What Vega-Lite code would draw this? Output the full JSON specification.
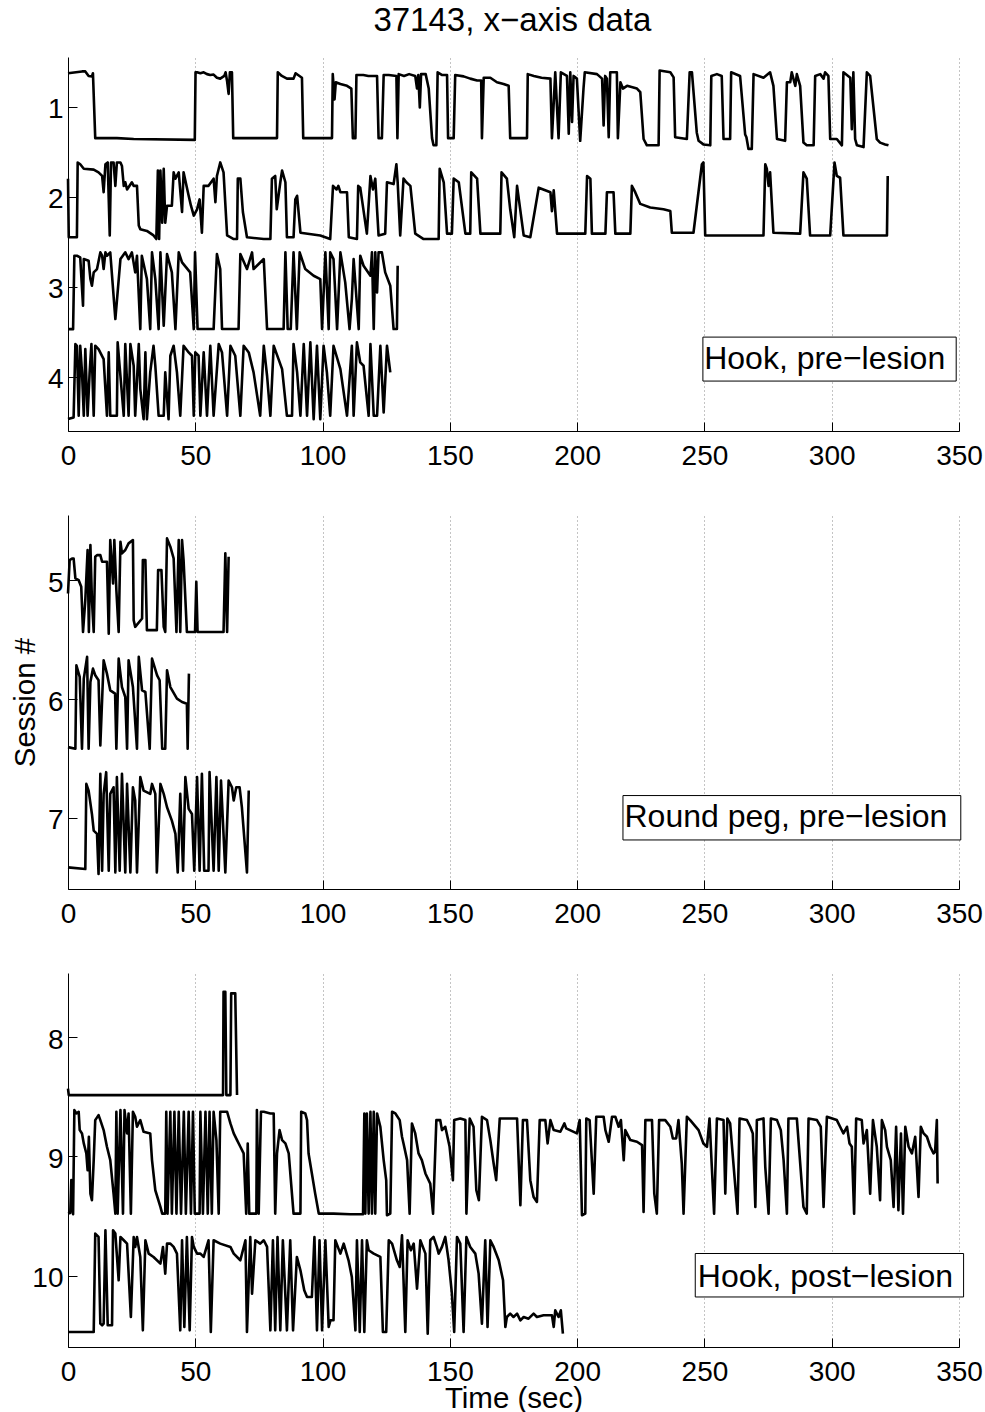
{
"$schema": "https://vega.github.io/schema/vega-lite/v6.json",
"background": "white",
"padding": {"left": 10, "top": 5, "right": 0, "bottom": 0},
"title": {"text": "37143, x−axis data", "anchor": "middle", "fontSize": 33, "fontWeight": "normal", "font": "Liberation Sans", "color": "black", "offset": 19, "dx": 16},
"spacing": 84,
"bounds": "flush",
"config": {
  "view": {"stroke": null},
  "axis": {"domainColor": "black", "tickColor": "black", "labelColor": "black", "labelFont": "Liberation Sans", "labelFontSize": 28, "titleFont": "Liberation Sans", "titleFontSize": 29.5, "titleFontWeight": "normal", "titleColor": "black", "tickSize": -9, "domainWidth": 1, "tickWidth": 1},
  "axisX": {"grid": true, "gridDash": [1, 3], "gridColor": "#888888", "gridWidth": 1, "labelPadding": 20, "labelFlush": false, "labelOverlap": false},
  "axisY": {"grid": false, "labelPadding": 14, "labelOffset": 3, "format": "d"}
},
"datasets": {
"hookPre": [
{"s":1,"t":0,"v":0.63},{"s":1,"t":5.5,"v":0.61},{"s":1,"t":6.8,"v":0.61},{"s":1,"t":8.1,"v":0.66},{"s":1,"t":9.4,"v":0.665},{"s":1,"t":9.8,"v":0.63},{"s":1,"t":10.7,"v":1.35},{"s":1,"t":19.2,"v":1.35},{"s":1,"t":25.8,"v":1.36},{"s":1,"t":49.8,"v":1.37},{"s":1,"t":50.1,"v":0.62},{"s":1,"t":50.7,"v":0.62},{"s":1,"t":52,"v":0.63},{"s":1,"t":53.3,"v":0.62},{"s":1,"t":54.6,"v":0.64},{"s":1,"t":55.9,"v":0.65},{"s":1,"t":57.2,"v":0.645},{"s":1,"t":58.5,"v":0.68},{"s":1,"t":59.8,"v":0.69},{"s":1,"t":61.4,"v":0.66},{"s":1,"t":61.9,"v":0.62},{"s":1,"t":62.5,"v":0.72},{"s":1,"t":63.1,"v":0.86},{"s":1,"t":63.6,"v":0.62},{"s":1,"t":64.4,"v":0.62},{"s":1,"t":64.9,"v":1.35},{"s":1,"t":82.1,"v":1.35},{"s":1,"t":82.4,"v":0.62},{"s":1,"t":84,"v":0.66},{"s":1,"t":86,"v":0.69},{"s":1,"t":88.6,"v":0.69},{"s":1,"t":89.4,"v":0.63},{"s":1,"t":91.9,"v":0.68},{"s":1,"t":92.4,"v":1.35},{"s":1,"t":103.7,"v":1.35},{"s":1,"t":104,"v":0.64},{"s":1,"t":104.7,"v":0.92},{"s":1,"t":105.2,"v":0.73},{"s":1,"t":107,"v":0.75},{"s":1,"t":109.6,"v":0.77},{"s":1,"t":111.3,"v":0.8},{"s":1,"t":111.9,"v":1.35},{"s":1,"t":112.9,"v":1.35},{"s":1,"t":113.3,"v":0.65},{"s":1,"t":116,"v":0.65},{"s":1,"t":118,"v":0.66},{"s":1,"t":121.4,"v":0.66},{"s":1,"t":122,"v":1.35},{"s":1,"t":123.3,"v":1.35},{"s":1,"t":124,"v":0.65},{"s":1,"t":126,"v":0.65},{"s":1,"t":129,"v":0.66},{"s":1,"t":129.4,"v":1.35},{"s":1,"t":129.9,"v":0.64},{"s":1,"t":132,"v":0.66},{"s":1,"t":134,"v":0.64},{"s":1,"t":136.4,"v":0.66},{"s":1,"t":137.1,"v":0.8},{"s":1,"t":137.6,"v":0.65},{"s":1,"t":138.2,"v":1.01},{"s":1,"t":138.7,"v":0.64},{"s":1,"t":140.5,"v":0.64},{"s":1,"t":141.7,"v":0.8},{"s":1,"t":143,"v":1.35},{"s":1,"t":143.6,"v":1.43},{"s":1,"t":144.7,"v":1.43},{"s":1,"t":145.2,"v":0.62},{"s":1,"t":147,"v":0.65},{"s":1,"t":148.9,"v":0.65},{"s":1,"t":149.3,"v":1.35},{"s":1,"t":151.5,"v":1.35},{"s":1,"t":152.1,"v":0.65},{"s":1,"t":155.4,"v":0.665},{"s":1,"t":158,"v":0.69},{"s":1,"t":160.7,"v":0.71},{"s":1,"t":162.3,"v":0.71},{"s":1,"t":162.6,"v":1.35},{"s":1,"t":163.3,"v":0.68},{"s":1,"t":165.9,"v":0.68},{"s":1,"t":168.5,"v":0.73},{"s":1,"t":171.1,"v":0.75},{"s":1,"t":173.1,"v":0.77},{"s":1,"t":173.7,"v":1.35},{"s":1,"t":180.3,"v":1.35},{"s":1,"t":180.6,"v":0.64},{"s":1,"t":183,"v":0.66},{"s":1,"t":186,"v":0.68},{"s":1,"t":189.5,"v":0.69},{"s":1,"t":190.1,"v":1.35},{"s":1,"t":191.4,"v":0.62},{"s":1,"t":192.7,"v":1.35},{"s":1,"t":193.6,"v":0.62},{"s":1,"t":196,"v":0.66},{"s":1,"t":196.7,"v":1.3},{"s":1,"t":197.3,"v":0.62},{"s":1,"t":198,"v":1.17},{"s":1,"t":198.6,"v":0.66},{"s":1,"t":199.9,"v":0.69},{"s":1,"t":201.2,"v":1.38},{"s":1,"t":202.5,"v":0.8},{"s":1,"t":203,"v":0.62},{"s":1,"t":207.8,"v":0.64},{"s":1,"t":209.8,"v":0.69},{"s":1,"t":210.4,"v":1.21},{"s":1,"t":211,"v":0.66},{"s":1,"t":211.7,"v":0.69},{"s":1,"t":212.4,"v":1.34},{"s":1,"t":213,"v":0.62},{"s":1,"t":215.6,"v":0.62},{"s":1,"t":216,"v":1.35},{"s":1,"t":217,"v":0.73},{"s":1,"t":218,"v":0.8},{"s":1,"t":219.6,"v":0.77},{"s":1,"t":223.5,"v":0.8},{"s":1,"t":224.8,"v":0.84},{"s":1,"t":226.1,"v":1.36},{"s":1,"t":227.4,"v":1.43},{"s":1,"t":232,"v":1.43},{"s":1,"t":232.4,"v":0.6},{"s":1,"t":236.6,"v":0.62},{"s":1,"t":237.9,"v":0.676},{"s":1,"t":238.5,"v":1.34},{"s":1,"t":243.1,"v":1.36},{"s":1,"t":244.2,"v":0.62},{"s":1,"t":245.1,"v":0.62},{"s":1,"t":247,"v":1.29},{"s":1,"t":247.7,"v":1.38},{"s":1,"t":249.6,"v":1.42},{"s":1,"t":252.3,"v":1.43},{"s":1,"t":252.7,"v":0.66},{"s":1,"t":254.9,"v":0.64},{"s":1,"t":256.8,"v":0.66},{"s":1,"t":257.5,"v":1.36},{"s":1,"t":260.1,"v":1.36},{"s":1,"t":260.5,"v":0.62},{"s":1,"t":264,"v":0.66},{"s":1,"t":266,"v":1.31},{"s":1,"t":266.5,"v":1.34},{"s":1,"t":267.3,"v":1.47},{"s":1,"t":268.6,"v":1.47},{"s":1,"t":269.3,"v":0.64},{"s":1,"t":273.2,"v":0.68},{"s":1,"t":275.8,"v":0.62},{"s":1,"t":277.1,"v":0.77},{"s":1,"t":278.5,"v":1.36},{"s":1,"t":281.7,"v":1.38},{"s":1,"t":282.4,"v":0.73},{"s":1,"t":283.7,"v":0.73},{"s":1,"t":284.3,"v":0.62},{"s":1,"t":285.7,"v":0.77},{"s":1,"t":286.3,"v":0.64},{"s":1,"t":287.6,"v":0.77},{"s":1,"t":288.9,"v":1.4},{"s":1,"t":290.2,"v":1.43},{"s":1,"t":292.9,"v":1.43},{"s":1,"t":293.5,"v":0.66},{"s":1,"t":295.5,"v":0.64},{"s":1,"t":296.8,"v":0.69},{"s":1,"t":297.4,"v":0.62},{"s":1,"t":298.7,"v":0.66},{"s":1,"t":299.4,"v":1.36},{"s":1,"t":302,"v":1.36},{"s":1,"t":304,"v":1.43},{"s":1,"t":304.6,"v":0.62},{"s":1,"t":307.3,"v":0.68},{"s":1,"t":307.9,"v":1.25},{"s":1,"t":308.5,"v":0.62},{"s":1,"t":309.2,"v":1.36},{"s":1,"t":309.9,"v":1.43},{"s":1,"t":312.5,"v":1.45},{"s":1,"t":313.8,"v":0.62},{"s":1,"t":315.1,"v":0.66},{"s":1,"t":317.7,"v":1.36},{"s":1,"t":319,"v":1.4},{"s":1,"t":321,"v":1.42},{"s":1,"t":322.3,"v":1.43},
{"s":2,"t":0,"v":1.8},{"s":2,"t":0.3,"v":2.45},{"s":2,"t":3.5,"v":2.45},{"s":2,"t":3.8,"v":1.62},{"s":2,"t":4.8,"v":1.64},{"s":2,"t":6.2,"v":1.69},{"s":2,"t":10.1,"v":1.7},{"s":2,"t":12,"v":1.73},{"s":2,"t":13.4,"v":1.77},{"s":2,"t":14,"v":1.95},{"s":2,"t":14.7,"v":1.64},{"s":2,"t":15.6,"v":1.62},{"s":2,"t":16.4,"v":2.43},{"s":2,"t":16.9,"v":1.62},{"s":2,"t":17.9,"v":1.62},{"s":2,"t":18.6,"v":1.88},{"s":2,"t":19.2,"v":1.62},{"s":2,"t":20.6,"v":1.62},{"s":2,"t":21.2,"v":1.66},{"s":2,"t":21.9,"v":1.88},{"s":2,"t":22.5,"v":1.84},{"s":2,"t":23.2,"v":1.92},{"s":2,"t":25.1,"v":1.84},{"s":2,"t":25.8,"v":1.88},{"s":2,"t":27.1,"v":1.88},{"s":2,"t":27.8,"v":2.32},{"s":2,"t":28.4,"v":2.36},{"s":2,"t":31,"v":2.38},{"s":2,"t":33.6,"v":2.43},{"s":2,"t":34.7,"v":2.47},{"s":2,"t":35.3,"v":1.71},{"s":2,"t":35.8,"v":2.47},{"s":2,"t":36.3,"v":1.71},{"s":2,"t":37,"v":2.29},{"s":2,"t":37.6,"v":1.69},{"s":2,"t":38.2,"v":2.29},{"s":2,"t":38.9,"v":2.1},{"s":2,"t":40.8,"v":2.1},{"s":2,"t":41.5,"v":1.73},{"s":2,"t":42.2,"v":1.8},{"s":2,"t":43.5,"v":1.73},{"s":2,"t":44.8,"v":2.17},{"s":2,"t":45.4,"v":1.73},{"s":2,"t":47.4,"v":1.99},{"s":2,"t":48.3,"v":2.1},{"s":2,"t":49.4,"v":2.21},{"s":2,"t":50.7,"v":2.14},{"s":2,"t":51.7,"v":2.03},{"s":2,"t":52.6,"v":2.4},{"s":2,"t":53.3,"v":1.88},{"s":2,"t":55.2,"v":1.88},{"s":2,"t":57.2,"v":1.8},{"s":2,"t":57.9,"v":2.06},{"s":2,"t":58.5,"v":1.77},{"s":2,"t":59.8,"v":1.62},{"s":2,"t":61.1,"v":1.73},{"s":2,"t":62.5,"v":2.43},{"s":2,"t":65.1,"v":2.47},{"s":2,"t":66.4,"v":2.47},{"s":2,"t":66.7,"v":1.8},{"s":2,"t":67.7,"v":1.8},{"s":2,"t":68.7,"v":2.17},{"s":2,"t":70.3,"v":2.45},{"s":2,"t":76.9,"v":2.47},{"s":2,"t":79.5,"v":2.47},{"s":2,"t":80.1,"v":1.8},{"s":2,"t":81.4,"v":1.77},{"s":2,"t":82,"v":2.14},{"s":2,"t":83.4,"v":1.84},{"s":2,"t":84.1,"v":1.71},{"s":2,"t":85.4,"v":1.84},{"s":2,"t":86,"v":2.45},{"s":2,"t":88.6,"v":2.45},{"s":2,"t":89.3,"v":2.03},{"s":2,"t":90,"v":1.99},{"s":2,"t":91.3,"v":2.4},{"s":2,"t":99.1,"v":2.43},{"s":2,"t":103,"v":2.47},{"s":2,"t":104.1,"v":1.88},{"s":2,"t":105.5,"v":1.92},{"s":2,"t":106.2,"v":1.88},{"s":2,"t":107,"v":1.95},{"s":2,"t":109.6,"v":1.95},{"s":2,"t":110.3,"v":2.45},{"s":2,"t":113.5,"v":2.47},{"s":2,"t":114,"v":1.88},{"s":2,"t":114.8,"v":1.9},{"s":2,"t":117.4,"v":2.41},{"s":2,"t":118.8,"v":1.77},{"s":2,"t":119.8,"v":1.92},{"s":2,"t":120.7,"v":1.8},{"s":2,"t":122,"v":2.43},{"s":2,"t":124.6,"v":2.41},{"s":2,"t":125.3,"v":1.84},{"s":2,"t":127.9,"v":1.86},{"s":2,"t":129,"v":1.64},{"s":2,"t":129.5,"v":1.84},{"s":2,"t":130.5,"v":2.43},{"s":2,"t":131.8,"v":1.8},{"s":2,"t":132.9,"v":1.84},{"s":2,"t":134.5,"v":1.88},{"s":2,"t":136.4,"v":2.41},{"s":2,"t":139.7,"v":2.47},{"s":2,"t":145.6,"v":2.47},{"s":2,"t":146,"v":1.69},{"s":2,"t":147.6,"v":1.84},{"s":2,"t":148.9,"v":2.41},{"s":2,"t":150.8,"v":2.41},{"s":2,"t":151.5,"v":1.8},{"s":2,"t":153.5,"v":1.84},{"s":2,"t":156.1,"v":2.41},{"s":2,"t":158,"v":2.41},{"s":2,"t":158.4,"v":1.73},{"s":2,"t":160.7,"v":1.8},{"s":2,"t":162,"v":2.41},{"s":2,"t":169.8,"v":2.41},{"s":2,"t":170.3,"v":1.73},{"s":2,"t":172.4,"v":1.8},{"s":2,"t":173.7,"v":2.14},{"s":2,"t":175.3,"v":2.45},{"s":2,"t":176.4,"v":1.88},{"s":2,"t":179,"v":2.43},{"s":2,"t":181.6,"v":2.45},{"s":2,"t":184.9,"v":1.9},{"s":2,"t":189.5,"v":1.95},{"s":2,"t":190.1,"v":2.16},{"s":2,"t":190.8,"v":1.93},{"s":2,"t":192.1,"v":2.41},{"s":2,"t":203.2,"v":2.41},{"s":2,"t":203.9,"v":1.77},{"s":2,"t":205.2,"v":1.8},{"s":2,"t":205.8,"v":2.41},{"s":2,"t":211.1,"v":2.41},{"s":2,"t":211.7,"v":1.95},{"s":2,"t":214.3,"v":1.95},{"s":2,"t":215,"v":2.41},{"s":2,"t":220.9,"v":2.41},{"s":2,"t":221.5,"v":1.88},{"s":2,"t":222.8,"v":1.95},{"s":2,"t":224.8,"v":2.08},{"s":2,"t":228.7,"v":2.12},{"s":2,"t":233.9,"v":2.14},{"s":2,"t":236.6,"v":2.16},{"s":2,"t":237.2,"v":2.4},{"s":2,"t":245.7,"v":2.4},{"s":2,"t":249,"v":1.64},{"s":2,"t":249.6,"v":1.62},{"s":2,"t":250.3,"v":2.43},{"s":2,"t":273.2,"v":2.43},{"s":2,"t":273.9,"v":1.64},{"s":2,"t":274.5,"v":1.69},{"s":2,"t":275.2,"v":1.88},{"s":2,"t":275.8,"v":1.73},{"s":2,"t":277.1,"v":2.4},{"s":2,"t":287.6,"v":2.41},{"s":2,"t":288.9,"v":1.73},{"s":2,"t":290.2,"v":1.8},{"s":2,"t":291.5,"v":2.43},{"s":2,"t":299.4,"v":2.43},{"s":2,"t":301.1,"v":1.62},{"s":2,"t":302,"v":1.77},{"s":2,"t":303.3,"v":1.79},{"s":2,"t":304.6,"v":2.43},{"s":2,"t":321.7,"v":2.43},{"s":2,"t":322,"v":1.77},
{"s":3,"t":0.3,"v":3.47},{"s":3,"t":2,"v":3.47},{"s":3,"t":2.5,"v":2.655},{"s":3,"t":3.5,"v":2.655},{"s":3,"t":4.8,"v":2.673},{"s":3,"t":5.9,"v":3.21},{"s":3,"t":6.2,"v":2.692},{"s":3,"t":8.1,"v":2.71},{"s":3,"t":8.8,"v":2.914},{"s":3,"t":9.4,"v":2.988},{"s":3,"t":10.1,"v":2.84},{"s":3,"t":11.4,"v":2.803},{"s":3,"t":12.7,"v":2.618},{"s":3,"t":13.4,"v":2.655},{"s":3,"t":14,"v":2.803},{"s":3,"t":14.7,"v":2.618},{"s":3,"t":15.3,"v":2.655},{"s":3,"t":16.6,"v":2.618},{"s":3,"t":18.6,"v":3.358},{"s":3,"t":20.6,"v":2.692},{"s":3,"t":22.5,"v":2.618},{"s":3,"t":23.8,"v":2.692},{"s":3,"t":25.1,"v":2.618},{"s":3,"t":26.4,"v":2.84},{"s":3,"t":27.1,"v":2.655},{"s":3,"t":28.4,"v":3.469},{"s":3,"t":29,"v":2.655},{"s":3,"t":31,"v":2.914},{"s":3,"t":32.3,"v":3.469},{"s":3,"t":33,"v":2.618},{"s":3,"t":34.3,"v":2.914},{"s":3,"t":35.6,"v":3.469},{"s":3,"t":36.3,"v":2.618},{"s":3,"t":37.6,"v":3.432},{"s":3,"t":38.9,"v":2.636},{"s":3,"t":40.8,"v":2.84},{"s":3,"t":42.2,"v":3.469},{"s":3,"t":43.5,"v":2.618},{"s":3,"t":44.8,"v":2.729},{"s":3,"t":48,"v":2.84},{"s":3,"t":49.4,"v":3.469},{"s":3,"t":49.9,"v":2.618},{"s":3,"t":50.9,"v":3.469},{"s":3,"t":57.2,"v":3.469},{"s":3,"t":58.5,"v":2.636},{"s":3,"t":59.8,"v":2.803},{"s":3,"t":60.5,"v":3.469},{"s":3,"t":67,"v":3.469},{"s":3,"t":67.7,"v":2.636},{"s":3,"t":70.3,"v":2.803},{"s":3,"t":72.3,"v":2.618},{"s":3,"t":72.9,"v":2.803},{"s":3,"t":76.9,"v":2.692},{"s":3,"t":78.2,"v":3.469},{"s":3,"t":84.7,"v":3.469},{"s":3,"t":85.4,"v":2.618},{"s":3,"t":86.3,"v":3.469},{"s":3,"t":87.5,"v":3.469},{"s":3,"t":88.6,"v":2.618},{"s":3,"t":89.9,"v":3.469},{"s":3,"t":91,"v":2.618},{"s":3,"t":93.2,"v":2.803},{"s":3,"t":96.5,"v":2.877},{"s":3,"t":99.1,"v":2.914},{"s":3,"t":99.8,"v":3.469},{"s":3,"t":101.1,"v":2.618},{"s":3,"t":102.4,"v":3.469},{"s":3,"t":103,"v":2.618},{"s":3,"t":104.3,"v":2.692},{"s":3,"t":105.7,"v":3.469},{"s":3,"t":107,"v":2.618},{"s":3,"t":108.9,"v":2.951},{"s":3,"t":110.6,"v":3.469},{"s":3,"t":111.5,"v":3.136},{"s":3,"t":112.2,"v":2.692},{"s":3,"t":114.2,"v":3.469},{"s":3,"t":114.8,"v":2.655},{"s":3,"t":116.1,"v":2.766},{"s":3,"t":118.8,"v":2.877},{"s":3,"t":119.4,"v":2.618},{"s":3,"t":120.1,"v":3.469},{"s":3,"t":120.7,"v":2.618},{"s":3,"t":121.4,"v":3.062},{"s":3,"t":122,"v":2.618},{"s":3,"t":123.3,"v":2.618},{"s":3,"t":124.6,"v":2.84},{"s":3,"t":126.6,"v":2.988},{"s":3,"t":127.9,"v":3.469},{"s":3,"t":129.2,"v":3.469},{"s":3,"t":129.5,"v":2.766},
{"s":4,"t":0,"v":4.468},{"s":4,"t":2.2,"v":4.449},{"s":4,"t":2.9,"v":3.635},{"s":4,"t":3.5,"v":3.654},{"s":4,"t":4.2,"v":4.431},{"s":4,"t":4.8,"v":3.654},{"s":4,"t":5.5,"v":3.95},{"s":4,"t":6.2,"v":4.431},{"s":4,"t":6.8,"v":3.691},{"s":4,"t":7.7,"v":4.431},{"s":4,"t":8.5,"v":3.95},{"s":4,"t":9.2,"v":3.635},{"s":4,"t":10.1,"v":4.431},{"s":4,"t":10.7,"v":3.654},{"s":4,"t":12,"v":3.691},{"s":4,"t":14,"v":3.802},{"s":4,"t":15.3,"v":4.431},{"s":4,"t":16,"v":3.728},{"s":4,"t":16.6,"v":4.431},{"s":4,"t":19.2,"v":4.431},{"s":4,"t":19.5,"v":3.617},{"s":4,"t":21.9,"v":4.431},{"s":4,"t":22.5,"v":3.635},{"s":4,"t":23.8,"v":4.431},{"s":4,"t":24.5,"v":3.635},{"s":4,"t":25.8,"v":3.876},{"s":4,"t":26.4,"v":4.431},{"s":4,"t":27.8,"v":3.635},{"s":4,"t":28.4,"v":4.135},{"s":4,"t":29.7,"v":4.468},{"s":4,"t":30.4,"v":3.728},{"s":4,"t":31,"v":4.468},{"s":4,"t":32.3,"v":3.95},{"s":4,"t":33.6,"v":3.654},{"s":4,"t":34.3,"v":3.876},{"s":4,"t":35.6,"v":4.431},{"s":4,"t":37.6,"v":4.431},{"s":4,"t":38.2,"v":3.95},{"s":4,"t":39.5,"v":4.468},{"s":4,"t":40.2,"v":3.765},{"s":4,"t":41.5,"v":3.654},{"s":4,"t":42.8,"v":3.95},{"s":4,"t":44.1,"v":4.431},{"s":4,"t":45.4,"v":3.654},{"s":4,"t":47.4,"v":3.728},{"s":4,"t":48.7,"v":3.765},{"s":4,"t":49.4,"v":4.431},{"s":4,"t":50,"v":3.728},{"s":4,"t":51.3,"v":3.765},{"s":4,"t":52,"v":4.431},{"s":4,"t":53.3,"v":3.728},{"s":4,"t":54.6,"v":4.431},{"s":4,"t":55.9,"v":3.654},{"s":4,"t":57.2,"v":4.431},{"s":4,"t":59.2,"v":3.635},{"s":4,"t":60.5,"v":3.728},{"s":4,"t":62.5,"v":4.431},{"s":4,"t":63.8,"v":3.654},{"s":4,"t":65.7,"v":3.765},{"s":4,"t":67.7,"v":4.431},{"s":4,"t":69,"v":3.654},{"s":4,"t":71,"v":3.728},{"s":4,"t":72.9,"v":3.95},{"s":4,"t":75.5,"v":4.431},{"s":4,"t":76.9,"v":3.654},{"s":4,"t":78.2,"v":3.987},{"s":4,"t":79.5,"v":4.431},{"s":4,"t":80.8,"v":3.654},{"s":4,"t":82.7,"v":3.802},{"s":4,"t":84.1,"v":3.913},{"s":4,"t":86,"v":4.431},{"s":4,"t":88,"v":4.431},{"s":4,"t":88.6,"v":3.635},{"s":4,"t":90,"v":3.95},{"s":4,"t":91.3,"v":4.431},{"s":4,"t":92.6,"v":3.635},{"s":4,"t":93.9,"v":4.431},{"s":4,"t":95.2,"v":3.617},{"s":4,"t":96.5,"v":4.468},{"s":4,"t":97.8,"v":3.654},{"s":4,"t":99.1,"v":4.468},{"s":4,"t":100.4,"v":3.654},{"s":4,"t":101.7,"v":3.95},{"s":4,"t":103,"v":4.431},{"s":4,"t":104.3,"v":3.654},{"s":4,"t":107,"v":3.913},{"s":4,"t":109.6,"v":4.431},{"s":4,"t":111.5,"v":3.654},{"s":4,"t":112.2,"v":4.431},{"s":4,"t":113.5,"v":3.617},{"s":4,"t":114.8,"v":3.839},{"s":4,"t":116.1,"v":3.876},{"s":4,"t":118.1,"v":4.431},{"s":4,"t":118.8,"v":3.635},{"s":4,"t":120.1,"v":4.431},{"s":4,"t":121.4,"v":4.431},{"s":4,"t":122.7,"v":3.654},{"s":4,"t":124,"v":4.394},{"s":4,"t":125.3,"v":3.654},{"s":4,"t":126.6,"v":3.95}
],
"roundPeg": [
{"s":5,"t":0,"v":5.111},{"s":5,"t":0.65,"v":4.83},{"s":5,"t":1.6,"v":4.816},{"s":5,"t":2.2,"v":4.816},{"s":5,"t":2.9,"v":4.984},{"s":5,"t":4.2,"v":4.999},{"s":5,"t":5.2,"v":5.055},{"s":5,"t":5.9,"v":5.435},{"s":5,"t":6.8,"v":5.167},{"s":5,"t":7.7,"v":4.745},{"s":5,"t":8.2,"v":5.435},{"s":5,"t":8.8,"v":4.703},{"s":5,"t":9.4,"v":5.167},{"s":5,"t":10.1,"v":5.435},{"s":5,"t":10.7,"v":4.802},{"s":5,"t":11.4,"v":4.788},{"s":5,"t":12.7,"v":4.788},{"s":5,"t":13.4,"v":4.844},{"s":5,"t":15.3,"v":4.844},{"s":5,"t":16,"v":5.449},{"s":5,"t":16.6,"v":4.661},{"s":5,"t":17.7,"v":5.027},{"s":5,"t":18.2,"v":4.661},{"s":5,"t":19,"v":5.083},{"s":5,"t":19.9,"v":5.435},{"s":5,"t":20.6,"v":4.675},{"s":5,"t":21.2,"v":4.773},{"s":5,"t":22.5,"v":4.745},{"s":5,"t":23.8,"v":4.689},{"s":5,"t":25.5,"v":4.661},{"s":5,"t":25.8,"v":5.336},{"s":5,"t":26.4,"v":5.392},{"s":5,"t":29.1,"v":5.322},{"s":5,"t":29.4,"v":4.83},{"s":5,"t":30.4,"v":4.83},{"s":5,"t":31,"v":5.42},{"s":5,"t":34.9,"v":5.42},{"s":5,"t":35.4,"v":4.914},{"s":5,"t":36.7,"v":4.914},{"s":5,"t":37.6,"v":5.392},{"s":5,"t":38.2,"v":5.435},{"s":5,"t":38.9,"v":4.647},{"s":5,"t":40.2,"v":4.717},{"s":5,"t":41.5,"v":4.816},{"s":5,"t":42.6,"v":5.435},{"s":5,"t":43.5,"v":4.661},{"s":5,"t":44.1,"v":5.435},{"s":5,"t":44.8,"v":4.661},{"s":5,"t":45.4,"v":4.83},{"s":5,"t":46.7,"v":5.435},{"s":5,"t":49.9,"v":5.435},{"s":5,"t":50.4,"v":5.013},{"s":5,"t":50.9,"v":5.435},{"s":5,"t":61.1,"v":5.435},{"s":5,"t":61.8,"v":4.773},{"s":5,"t":62.5,"v":5.435},{"s":5,"t":63.1,"v":4.802},
{"s":6,"t":0,"v":6.405},{"s":6,"t":2.9,"v":6.419},{"s":6,"t":3.3,"v":5.716},{"s":6,"t":4.6,"v":5.814},{"s":6,"t":5.5,"v":6.419},{"s":6,"t":6.2,"v":5.828},{"s":6,"t":7.5,"v":5.645},{"s":6,"t":8.1,"v":6.419},{"s":6,"t":8.8,"v":5.856},{"s":6,"t":9.8,"v":5.744},{"s":6,"t":10.7,"v":5.8},{"s":6,"t":12,"v":5.842},{"s":6,"t":12.7,"v":6.391},{"s":6,"t":14,"v":5.674},{"s":6,"t":15.3,"v":5.786},{"s":6,"t":16.6,"v":5.927},{"s":6,"t":18.5,"v":5.955},{"s":6,"t":19,"v":6.419},{"s":6,"t":19.9,"v":5.66},{"s":6,"t":21.2,"v":5.899},{"s":6,"t":22.5,"v":5.983},{"s":6,"t":23.2,"v":6.419},{"s":6,"t":23.8,"v":5.674},{"s":6,"t":25.5,"v":5.899},{"s":6,"t":27.1,"v":6.419},{"s":6,"t":27.8,"v":5.645},{"s":6,"t":29.1,"v":5.927},{"s":6,"t":30.4,"v":5.941},{"s":6,"t":32.1,"v":6.419},{"s":6,"t":33,"v":5.66},{"s":6,"t":35,"v":5.8},{"s":6,"t":36,"v":5.842},{"s":6,"t":37,"v":6.419},{"s":6,"t":38.2,"v":6.419},{"s":6,"t":38.9,"v":5.758},{"s":6,"t":40.2,"v":5.899},{"s":6,"t":42.8,"v":5.997},{"s":6,"t":44.8,"v":6.025},{"s":6,"t":46.7,"v":6.039},{"s":6,"t":47,"v":6.419},{"s":6,"t":47.5,"v":5.786},
{"s":7,"t":0,"v":7.418},{"s":7,"t":6.8,"v":7.432},{"s":7,"t":7.2,"v":6.715},{"s":7,"t":8.1,"v":6.771},{"s":7,"t":9.4,"v":6.968},{"s":7,"t":10.1,"v":7.108},{"s":7,"t":11.4,"v":7.136},{"s":7,"t":12,"v":7.474},{"s":7,"t":12.7,"v":6.63},{"s":7,"t":13.4,"v":7.446},{"s":7,"t":14,"v":6.799},{"s":7,"t":15,"v":6.616},{"s":7,"t":16,"v":7.446},{"s":7,"t":16.6,"v":6.799},{"s":7,"t":17.9,"v":6.743},{"s":7,"t":18.6,"v":7.46},{"s":7,"t":19.2,"v":6.658},{"s":7,"t":20.3,"v":7.446},{"s":7,"t":21.2,"v":6.63},{"s":7,"t":22.5,"v":7.46},{"s":7,"t":23.2,"v":6.715},{"s":7,"t":24.5,"v":7.46},{"s":7,"t":25.5,"v":6.743},{"s":7,"t":26.4,"v":6.855},{"s":7,"t":27.1,"v":7.46},{"s":7,"t":28.4,"v":6.658},{"s":7,"t":29.7,"v":6.771},{"s":7,"t":32.3,"v":6.799},{"s":7,"t":33,"v":6.715},{"s":7,"t":34.3,"v":6.799},{"s":7,"t":34.9,"v":7.46},{"s":7,"t":36.3,"v":6.715},{"s":7,"t":37.6,"v":6.799},{"s":7,"t":38.9,"v":6.911},{"s":7,"t":40.8,"v":7.024},{"s":7,"t":42.2,"v":7.136},{"s":7,"t":43.1,"v":7.46},{"s":7,"t":44.1,"v":6.799},{"s":7,"t":45.2,"v":7.446},{"s":7,"t":46.1,"v":6.658},{"s":7,"t":47.4,"v":6.925},{"s":7,"t":48.7,"v":6.968},{"s":7,"t":49.6,"v":7.446},{"s":7,"t":50.7,"v":6.658},{"s":7,"t":51.7,"v":7.446},{"s":7,"t":52.6,"v":6.63},{"s":7,"t":53.5,"v":7.446},{"s":7,"t":55.2,"v":7.446},{"s":7,"t":55.6,"v":6.616},{"s":7,"t":57.2,"v":7.446},{"s":7,"t":58.3,"v":6.658},{"s":7,"t":59.2,"v":7.446},{"s":7,"t":60.1,"v":6.686},{"s":7,"t":61.8,"v":7.46},{"s":7,"t":63.1,"v":6.686},{"s":7,"t":64.4,"v":6.743},{"s":7,"t":65.1,"v":6.855},{"s":7,"t":66.1,"v":6.743},{"s":7,"t":67.4,"v":6.743},{"s":7,"t":68.3,"v":6.911},{"s":7,"t":70.3,"v":7.46},{"s":7,"t":71,"v":6.771}
],
"hookPost": [
{"s":8,"t":0,"v":8.43},{"s":8,"t":0.3,"v":8.485},{"s":8,"t":60.9,"v":8.485},{"s":8,"t":61.1,"v":7.617},{"s":8,"t":61.8,"v":7.617},{"s":8,"t":62.2,"v":8.485},{"s":8,"t":63.8,"v":8.485},{"s":8,"t":64.1,"v":7.631},{"s":8,"t":65.7,"v":7.631},{"s":8,"t":66.4,"v":8.485},
{"s":9,"t":0,"v":9.48},{"s":9,"t":0.9,"v":9.475},{"s":9,"t":1.3,"v":9.199},{"s":9,"t":2,"v":9.485},{"s":9,"t":2.5,"v":8.611},{"s":9,"t":3.3,"v":8.639},{"s":9,"t":4.2,"v":8.625},{"s":9,"t":4.6,"v":8.779},{"s":9,"t":5.5,"v":8.807},{"s":9,"t":6.2,"v":8.891},{"s":9,"t":7.2,"v":8.975},{"s":9,"t":7.7,"v":9.115},{"s":9,"t":8.2,"v":8.835},{"s":9,"t":8.8,"v":9.312},{"s":9,"t":9.4,"v":9.368},{"s":9,"t":10.1,"v":9.031},{"s":9,"t":10.7,"v":8.695},{"s":9,"t":12,"v":8.653},{"s":9,"t":12.7,"v":8.695},{"s":9,"t":14,"v":8.779},{"s":9,"t":15.3,"v":8.919},{"s":9,"t":16.6,"v":9.031},{"s":9,"t":17.9,"v":9.312},{"s":9,"t":18.6,"v":9.48},{"s":9,"t":19,"v":8.625},{"s":9,"t":19.5,"v":9.48},{"s":9,"t":20.6,"v":8.611},{"s":9,"t":21.6,"v":9.48},{"s":9,"t":22.2,"v":8.611},{"s":9,"t":23.2,"v":8.807},{"s":9,"t":23.8,"v":8.639},{"s":9,"t":24.7,"v":9.48},{"s":9,"t":25.5,"v":8.625},{"s":9,"t":26.4,"v":8.667},{"s":9,"t":27.1,"v":8.751},{"s":9,"t":28.4,"v":8.695},{"s":9,"t":29.7,"v":8.793},{"s":9,"t":32.3,"v":8.807},{"s":9,"t":33,"v":9.031},{"s":9,"t":34.3,"v":9.284},{"s":9,"t":36.3,"v":9.424},{"s":9,"t":37,"v":9.48},{"s":9,"t":38.2,"v":9.48},{"s":9,"t":38.6,"v":8.625},{"s":9,"t":39.1,"v":9.48},{"s":9,"t":40.2,"v":8.625},{"s":9,"t":40.8,"v":9.48},{"s":9,"t":41.8,"v":8.625},{"s":9,"t":42.6,"v":9.48},{"s":9,"t":43.5,"v":8.625},{"s":9,"t":44.4,"v":9.48},{"s":9,"t":45.5,"v":8.625},{"s":9,"t":46.3,"v":9.48},{"s":9,"t":47.4,"v":8.625},{"s":9,"t":48.3,"v":9.48},{"s":9,"t":49.1,"v":8.625},{"s":9,"t":49.8,"v":9.48},{"s":9,"t":51.7,"v":9.48},{"s":9,"t":52,"v":8.625},{"s":9,"t":53,"v":9.48},{"s":9,"t":54,"v":8.625},{"s":9,"t":54.9,"v":9.48},{"s":9,"t":55.6,"v":8.625},{"s":9,"t":56.5,"v":9.48},{"s":9,"t":57.2,"v":8.625},{"s":9,"t":58.3,"v":8.863},{"s":9,"t":59.2,"v":9.48},{"s":9,"t":59.8,"v":8.625},{"s":9,"t":62.5,"v":8.625},{"s":9,"t":63.8,"v":8.723},{"s":9,"t":65.1,"v":8.807},{"s":9,"t":66.4,"v":8.863},{"s":9,"t":67.7,"v":8.919},{"s":9,"t":69,"v":8.975},{"s":9,"t":70,"v":9.48},{"s":9,"t":70.6,"v":8.891},{"s":9,"t":71.2,"v":9.48},{"s":9,"t":74,"v":9.48},{"s":9,"t":74.2,"v":8.611},{"s":9,"t":74.9,"v":9.48},{"s":9,"t":75.8,"v":8.625},{"s":9,"t":76.9,"v":8.625},{"s":9,"t":79.5,"v":8.639},{"s":9,"t":80.8,"v":8.639},{"s":9,"t":81.4,"v":9.48},{"s":9,"t":82.1,"v":8.975},{"s":9,"t":83.1,"v":8.779},{"s":9,"t":84.1,"v":8.863},{"s":9,"t":85.4,"v":8.891},{"s":9,"t":86.7,"v":8.975},{"s":9,"t":88.6,"v":9.48},{"s":9,"t":91.3,"v":9.48},{"s":9,"t":91.6,"v":8.625},{"s":9,"t":93.2,"v":8.639},{"s":9,"t":93.9,"v":8.695},{"s":9,"t":94.5,"v":8.975},{"s":9,"t":95.8,"v":9.143},{"s":9,"t":97.1,"v":9.312},{"s":9,"t":98.5,"v":9.48},{"s":9,"t":104.3,"v":9.48},{"s":9,"t":110.9,"v":9.485},{"s":9,"t":115.9,"v":9.485},{"s":9,"t":116.4,"v":8.639},{"s":9,"t":116.8,"v":9.48},{"s":9,"t":117.4,"v":8.639},{"s":9,"t":118.1,"v":9.48},{"s":9,"t":118.8,"v":8.625},{"s":9,"t":119.4,"v":9.48},{"s":9,"t":120.1,"v":8.625},{"s":9,"t":120.7,"v":9.48},{"s":9,"t":121.4,"v":8.639},{"s":9,"t":122.7,"v":8.751},{"s":9,"t":124,"v":9.031},{"s":9,"t":125,"v":9.199},{"s":9,"t":125.3,"v":9.494},{"s":9,"t":126.6,"v":9.48},{"s":9,"t":127.3,"v":8.625},{"s":9,"t":128.6,"v":8.639},{"s":9,"t":130.3,"v":8.695},{"s":9,"t":131.2,"v":8.835},{"s":9,"t":131.8,"v":8.891},{"s":9,"t":133.2,"v":9.031},{"s":9,"t":134.2,"v":9.48},{"s":9,"t":135.1,"v":8.723},{"s":9,"t":136.4,"v":8.807},{"s":9,"t":137.7,"v":8.975},{"s":9,"t":139,"v":9.031},{"s":9,"t":140.4,"v":9.143},{"s":9,"t":142.3,"v":9.228},{"s":9,"t":143.4,"v":9.48},{"s":9,"t":144.7,"v":8.695},{"s":9,"t":146.2,"v":8.695},{"s":9,"t":146.9,"v":8.779},{"s":9,"t":148.2,"v":8.751},{"s":9,"t":149.9,"v":8.919},{"s":9,"t":151.2,"v":9.199},{"s":9,"t":151.7,"v":8.695},{"s":9,"t":154.1,"v":8.681},{"s":9,"t":156.1,"v":8.695},{"s":9,"t":156.5,"v":9.48},{"s":9,"t":157.8,"v":8.681},{"s":9,"t":159.3,"v":8.751},{"s":9,"t":160.4,"v":9.284},{"s":9,"t":161.4,"v":9.368},{"s":9,"t":162.6,"v":8.667},{"s":9,"t":164.6,"v":8.695},{"s":9,"t":165.9,"v":8.863},{"s":9,"t":167.2,"v":9.059},{"s":9,"t":168.2,"v":9.199},{"s":9,"t":169.6,"v":8.681},{"s":9,"t":176.4,"v":8.681},{"s":9,"t":177.7,"v":9.41},{"s":9,"t":178.7,"v":8.695},{"s":9,"t":180.3,"v":8.695},{"s":9,"t":181.6,"v":9.199},{"s":9,"t":182.9,"v":9.34},{"s":9,"t":184.2,"v":9.382},{"s":9,"t":185.3,"v":8.695},{"s":9,"t":187.5,"v":8.695},{"s":9,"t":188.4,"v":8.891},{"s":9,"t":189.5,"v":8.695},{"s":9,"t":190.8,"v":8.779},{"s":9,"t":193.4,"v":8.793},{"s":9,"t":195,"v":8.723},{"s":9,"t":195.7,"v":8.765},{"s":9,"t":199.9,"v":8.807},{"s":9,"t":201,"v":8.695},{"s":9,"t":201.9,"v":9.494},{"s":9,"t":203.2,"v":9.48},{"s":9,"t":203.6,"v":8.681},{"s":9,"t":204.9,"v":8.695},{"s":9,"t":206.5,"v":9.312},{"s":9,"t":207.5,"v":8.667},{"s":9,"t":210.4,"v":8.667},{"s":9,"t":211.1,"v":8.779},{"s":9,"t":212.4,"v":8.877},{"s":9,"t":213.7,"v":8.667},{"s":9,"t":215,"v":8.667},{"s":9,"t":216.3,"v":8.751},{"s":9,"t":217.2,"v":8.695},{"s":9,"t":218.3,"v":9.031},{"s":9,"t":218.9,"v":8.779},{"s":9,"t":220.9,"v":8.863},{"s":9,"t":223.5,"v":8.877},{"s":9,"t":225.5,"v":8.905},{"s":9,"t":226.1,"v":9.466},{"s":9,"t":226.8,"v":8.695},{"s":9,"t":229.4,"v":8.695},{"s":9,"t":230.3,"v":9.312},{"s":9,"t":231.3,"v":9.48},{"s":9,"t":232.2,"v":8.695},{"s":9,"t":234.6,"v":8.695},{"s":9,"t":236.6,"v":8.751},{"s":9,"t":237.6,"v":8.849},{"s":9,"t":238.9,"v":8.849},{"s":9,"t":239.8,"v":8.695},{"s":9,"t":241.1,"v":9.059},{"s":9,"t":241.8,"v":9.48},{"s":9,"t":243.1,"v":8.667},{"s":9,"t":244.4,"v":8.695},{"s":9,"t":247.7,"v":8.779},{"s":9,"t":249.6,"v":8.891},{"s":9,"t":251,"v":8.919},{"s":9,"t":252,"v":8.681},{"s":9,"t":252.9,"v":9.087},{"s":9,"t":253.8,"v":9.48},{"s":9,"t":254.9,"v":8.681},{"s":9,"t":257.5,"v":8.695},{"s":9,"t":258.2,"v":9.312},{"s":9,"t":259,"v":8.681},{"s":9,"t":260.1,"v":8.723},{"s":9,"t":263,"v":9.48},{"s":9,"t":263.8,"v":8.681},{"s":9,"t":266.7,"v":8.695},{"s":9,"t":268,"v":8.751},{"s":9,"t":269,"v":8.807},{"s":9,"t":270,"v":9.424},{"s":9,"t":270.6,"v":8.695},{"s":9,"t":273.2,"v":8.681},{"s":9,"t":273.9,"v":9.087},{"s":9,"t":275.2,"v":9.48},{"s":9,"t":276.1,"v":8.681},{"s":9,"t":278.5,"v":8.695},{"s":9,"t":280,"v":8.779},{"s":9,"t":281.1,"v":9.031},{"s":9,"t":282.4,"v":9.48},{"s":9,"t":283,"v":8.681},{"s":9,"t":286.3,"v":8.681},{"s":9,"t":288.9,"v":9.424},{"s":9,"t":290.2,"v":9.48},{"s":9,"t":290.9,"v":8.681},{"s":9,"t":294.2,"v":8.695},{"s":9,"t":295.7,"v":8.751},{"s":9,"t":296.8,"v":9.424},{"s":9,"t":298.1,"v":8.667},{"s":9,"t":302,"v":8.695},{"s":9,"t":303.3,"v":8.751},{"s":9,"t":304.6,"v":8.807},{"s":9,"t":306,"v":8.751},{"s":9,"t":307,"v":8.891},{"s":9,"t":307.9,"v":8.919},{"s":9,"t":308.8,"v":9.48},{"s":9,"t":309.6,"v":8.681},{"s":9,"t":311.8,"v":8.695},{"s":9,"t":312.5,"v":8.891},{"s":9,"t":313.8,"v":8.779},{"s":9,"t":315.1,"v":9.312},{"s":9,"t":316.2,"v":8.695},{"s":9,"t":317.7,"v":8.919},{"s":9,"t":319,"v":9.368},{"s":9,"t":319.7,"v":8.695},{"s":9,"t":321,"v":8.779},{"s":9,"t":321.7,"v":8.919},{"s":9,"t":323.2,"v":9.031},{"s":9,"t":324.3,"v":9.424},{"s":9,"t":325.3,"v":8.751},{"s":9,"t":326.2,"v":9.452},{"s":9,"t":327.2,"v":8.807},{"s":9,"t":328,"v":9.48},{"s":9,"t":328.9,"v":8.751},{"s":9,"t":330.2,"v":8.919},{"s":9,"t":331.5,"v":8.975},{"s":9,"t":332.8,"v":8.835},{"s":9,"t":334.1,"v":9.34},{"s":9,"t":335,"v":8.751},{"s":9,"t":336.1,"v":8.807},{"s":9,"t":337.4,"v":8.835},{"s":9,"t":338.7,"v":8.919},{"s":9,"t":340,"v":8.975},{"s":9,"t":340.6,"v":8.961},{"s":9,"t":341.3,"v":8.695},{"s":9,"t":341.6,"v":9.228},
{"s":10,"t":0,"v":10.474},{"s":10,"t":10.1,"v":10.474},{"s":10,"t":10.7,"v":9.648},{"s":10,"t":12,"v":9.676},{"s":10,"t":12.7,"v":10.404},{"s":10,"t":13.4,"v":10.418},{"s":10,"t":14,"v":10.404},{"s":10,"t":14.7,"v":9.62},{"s":10,"t":15.6,"v":10.418},{"s":10,"t":17.3,"v":10.418},{"s":10,"t":17.7,"v":9.62},{"s":10,"t":18.6,"v":9.648},{"s":10,"t":19.9,"v":10.04},{"s":10,"t":20.6,"v":9.676},{"s":10,"t":21.9,"v":9.704},{"s":10,"t":23.2,"v":9.732},{"s":10,"t":24.7,"v":10.348},{"s":10,"t":25.8,"v":9.676},{"s":10,"t":26.4,"v":9.76},{"s":10,"t":27.1,"v":9.676},{"s":10,"t":28.4,"v":9.844},{"s":10,"t":29.4,"v":10.46},{"s":10,"t":30.4,"v":9.704},{"s":10,"t":31.7,"v":9.816},{"s":10,"t":33.6,"v":9.844},{"s":10,"t":36.3,"v":9.9},{"s":10,"t":37.3,"v":9.76},{"s":10,"t":38.2,"v":9.984},{"s":10,"t":38.9,"v":9.732},{"s":10,"t":40.2,"v":9.732},{"s":10,"t":41.5,"v":9.76},{"s":10,"t":42.8,"v":9.816},{"s":10,"t":44.1,"v":10.46},{"s":10,"t":44.8,"v":9.704},{"s":10,"t":45.7,"v":10.432},{"s":10,"t":46.7,"v":9.676},{"s":10,"t":47.8,"v":10.46},{"s":10,"t":48.7,"v":9.676},{"s":10,"t":49.4,"v":9.76},{"s":10,"t":50.7,"v":9.816},{"s":10,"t":52,"v":9.816},{"s":10,"t":53.3,"v":9.844},{"s":10,"t":55.2,"v":9.704},{"s":10,"t":56.1,"v":10.474},{"s":10,"t":57.2,"v":9.704},{"s":10,"t":59.8,"v":9.732},{"s":10,"t":63.8,"v":9.76},{"s":10,"t":65.1,"v":9.816},{"s":10,"t":67.7,"v":9.872},{"s":10,"t":69.7,"v":9.704},{"s":10,"t":70.3,"v":10.474},{"s":10,"t":71.6,"v":9.676},{"s":10,"t":72.3,"v":10.152},{"s":10,"t":73.6,"v":9.704},{"s":10,"t":75.5,"v":9.732},{"s":10,"t":76.9,"v":9.704},{"s":10,"t":78.2,"v":9.76},{"s":10,"t":79.5,"v":10.46},{"s":10,"t":80.5,"v":9.704},{"s":10,"t":81.4,"v":10.46},{"s":10,"t":82.3,"v":9.676},{"s":10,"t":83.4,"v":10.46},{"s":10,"t":84.4,"v":9.704},{"s":10,"t":86,"v":10.46},{"s":10,"t":87.3,"v":9.704},{"s":10,"t":88.4,"v":10.46},{"s":10,"t":89.9,"v":9.844},{"s":10,"t":91.3,"v":9.956},{"s":10,"t":92.8,"v":10.124},{"s":10,"t":93.9,"v":10.18},{"s":10,"t":95.8,"v":10.18},{"s":10,"t":96.8,"v":9.676},{"s":10,"t":97.8,"v":10.46},{"s":10,"t":98.8,"v":9.704},{"s":10,"t":99.8,"v":10.46},{"s":10,"t":101.1,"v":9.704},{"s":10,"t":102.4,"v":10.432},{"s":10,"t":103.1,"v":10.376},{"s":10,"t":104.3,"v":10.376},{"s":10,"t":105,"v":9.704},{"s":10,"t":107,"v":9.816},{"s":10,"t":108.3,"v":9.732},{"s":10,"t":110.2,"v":9.872},{"s":10,"t":111.5,"v":10.012},{"s":10,"t":112.9,"v":10.46},{"s":10,"t":113.5,"v":9.704},{"s":10,"t":114.6,"v":10.474},{"s":10,"t":115.5,"v":9.704},{"s":10,"t":116.4,"v":10.474},{"s":10,"t":117.4,"v":9.704},{"s":10,"t":118.1,"v":9.788},{"s":10,"t":120.1,"v":9.816},{"s":10,"t":122.7,"v":9.844},{"s":10,"t":123.7,"v":10.474},{"s":10,"t":125,"v":10.474},{"s":10,"t":126,"v":9.704},{"s":10,"t":127.3,"v":9.732},{"s":10,"t":129.2,"v":9.872},{"s":10,"t":130.3,"v":9.928},{"s":10,"t":131.2,"v":9.662},{"s":10,"t":132.5,"v":10.474},{"s":10,"t":133.4,"v":9.704},{"s":10,"t":134.7,"v":9.788},{"s":10,"t":135.8,"v":9.732},{"s":10,"t":137.1,"v":10.11},{"s":10,"t":138.4,"v":9.704},{"s":10,"t":140.4,"v":9.816},{"s":10,"t":141.3,"v":10.488},{"s":10,"t":142.3,"v":9.704},{"s":10,"t":143.6,"v":9.676},{"s":10,"t":144.9,"v":9.76},{"s":10,"t":145.6,"v":9.816},{"s":10,"t":146.9,"v":9.76},{"s":10,"t":148.2,"v":9.676},{"s":10,"t":149.5,"v":9.872},{"s":10,"t":150.8,"v":10.152},{"s":10,"t":151.7,"v":10.474},{"s":10,"t":152.8,"v":9.676},{"s":10,"t":154.1,"v":9.732},{"s":10,"t":155.4,"v":10.474},{"s":10,"t":156.5,"v":9.676},{"s":10,"t":158,"v":9.76},{"s":10,"t":160,"v":9.816},{"s":10,"t":161.3,"v":9.984},{"s":10,"t":162.6,"v":10.404},{"s":10,"t":163.9,"v":9.704},{"s":10,"t":164.8,"v":10.432},{"s":10,"t":165.9,"v":9.704},{"s":10,"t":167.2,"v":9.76},{"s":10,"t":169.2,"v":9.872},{"s":10,"t":170.9,"v":10.04},{"s":10,"t":171.8,"v":10.432},{"s":10,"t":172.4,"v":10.348},{"s":10,"t":173.7,"v":10.32},{"s":10,"t":175,"v":10.348},{"s":10,"t":176.4,"v":10.32},{"s":10,"t":177.7,"v":10.376},{"s":10,"t":179,"v":10.348},{"s":10,"t":180.9,"v":10.362},{"s":10,"t":182.9,"v":10.32},{"s":10,"t":184.2,"v":10.348},{"s":10,"t":186.8,"v":10.334},{"s":10,"t":190.1,"v":10.334},{"s":10,"t":190.8,"v":10.432},{"s":10,"t":191.4,"v":10.292},{"s":10,"t":192.7,"v":10.348},{"s":10,"t":193.6,"v":10.292},{"s":10,"t":194.4,"v":10.488}
]
},
"vconcat": [
{
  "width": 891, "height": 374,
  "layer": [
    {"data": {"name": "hookPre"}, "mark": {"type": "line", "color": "black", "strokeWidth": 2.6, "strokeJoin": "round"},
     "encoding": {
       "x": {"field": "t", "type": "quantitative", "scale": {"domain": [0, 350], "nice": false}, "axis": {"values": [0, 50, 100, 150, 200, 250, 300, 350], "title": null}},
       "y": {"field": "v", "type": "quantitative", "scale": {"domain": [0.45, 4.6], "reverse": true, "nice": false, "zero": false}, "axis": {"values": [1, 2, 3, 4], "title": null}},
       "detail": {"field": "s"}}},
    {"data": {"values": [{}]}, "mark": {"type": "rect", "fill": "white", "stroke": "black", "strokeWidth": 1},
     "encoding": {"x": {"datum": 249.4}, "x2": {"datum": 348.9}, "y": {"datum": 3.558}, "y2": {"datum": 4.046}}},
    {"data": {"values": [{}]}, "mark": {"type": "text", "text": "Hook, pre−lesion", "align": "left", "baseline": "alphabetic", "fontSize": 32, "font": "Liberation Sans", "color": "black"},
     "encoding": {"x": {"datum": 249.9}, "y": {"datum": 3.913}}}
  ]
},
{
  "width": 891, "height": 374,
  "layer": [
    {"data": {"name": "roundPeg"}, "mark": {"type": "line", "color": "black", "strokeWidth": 2.6, "strokeJoin": "round"},
     "encoding": {
       "x": {"field": "t", "type": "quantitative", "scale": {"domain": [0, 350], "nice": false}, "axis": {"values": [0, 50, 100, 150, 200, 250, 300, 350], "title": null}},
       "y": {"field": "v", "type": "quantitative", "scale": {"domain": [4.45, 7.6], "reverse": true, "nice": false, "zero": false}, "axis": {"values": [5, 6, 7], "title": "Session #", "titlePadding": 7}},
       "detail": {"field": "s"}}},
    {"data": {"values": [{}]}, "mark": {"type": "rect", "fill": "white", "stroke": "black", "strokeWidth": 1},
     "encoding": {"x": {"datum": 218.0}, "x2": {"datum": 350.7}, "y": {"datum": 6.813}, "y2": {"datum": 7.187}}},
    {"data": {"values": [{}]}, "mark": {"type": "text", "text": "Round peg, pre−lesion", "align": "left", "baseline": "alphabetic", "fontSize": 32, "font": "Liberation Sans", "color": "black"},
     "encoding": {"x": {"datum": 218.6}, "y": {"datum": 7.08}}}
  ]
},
{
  "width": 891, "height": 374,
  "layer": [
    {"data": {"name": "hookPost"}, "mark": {"type": "line", "color": "black", "strokeWidth": 2.6, "strokeJoin": "round"},
     "encoding": {
       "x": {"field": "t", "type": "quantitative", "scale": {"domain": [0, 350], "nice": false}, "axis": {"values": [0, 50, 100, 150, 200, 250, 300, 350], "title": "Time (sec)", "titlePadding": -2}},
       "y": {"field": "v", "type": "quantitative", "scale": {"domain": [7.46, 10.6], "reverse": true, "nice": false, "zero": false}, "axis": {"values": [8, 9, 10], "title": null}},
       "detail": {"field": "s"}}},
    {"data": {"values": [{}]}, "mark": {"type": "rect", "fill": "white", "stroke": "black", "strokeWidth": 1},
     "encoding": {"x": {"datum": 246.4}, "x2": {"datum": 351.8}, "y": {"datum": 9.815}, "y2": {"datum": 10.18}}},
    {"data": {"values": [{}]}, "mark": {"type": "text", "text": "Hook, post−lesion", "align": "left", "baseline": "alphabetic", "fontSize": 32, "font": "Liberation Sans", "color": "black"},
     "encoding": {"x": {"datum": 247.4}, "y": {"datum": 10.1}}}
  ]
}
]
}
